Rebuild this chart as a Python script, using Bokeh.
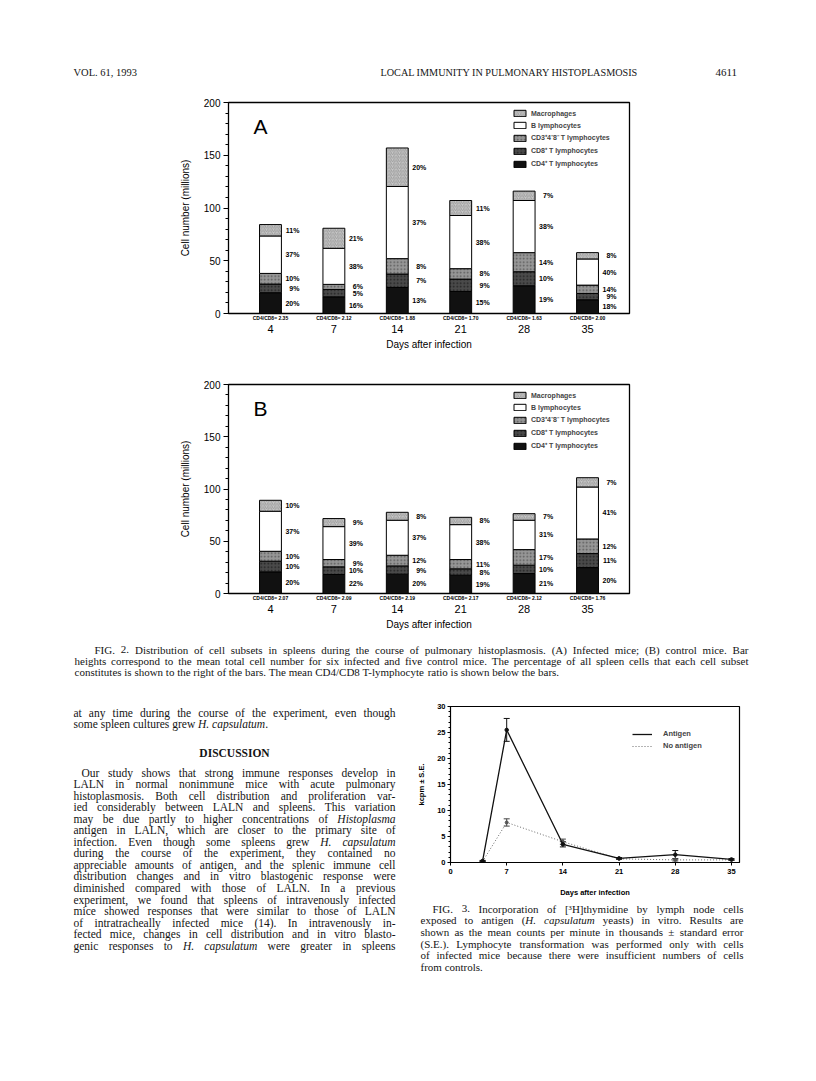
from bokeh.plotting import figure
from bokeh.layouts import column, row
from bokeh.models import (ColumnDataSource, Range1d, LabelSet, Label, Legend, LegendItem,
                          FixedTicker, SingleIntervalTicker, Whisker, TeeHead, LinearAxis)
from bokeh.core.properties import value
from bokeh.embed import file_html
from bokeh.resources import INLINE

SANS = "Liberation Sans"
SERIF = "Liberation Serif"

# ---------------- Fig. 2 data (cell numbers, millions) ----------------
days = ["4", "7", "14", "21", "28", "35"]
subset_names = ["CD4⁺ T lymphocytes", "CD8⁺ T lymphocytes", "CD3⁺4⁻8⁻ T lymphocytes",
                "B lymphocytes", "Macrophages"]

# Panel A: infected mice
a_cd4 = [19.7, 15.8, 24.7, 20.9, 26.3, 13.0]
a_cd8 = [8.2, 7.0, 12.7, 11.7, 13.3, 6.0]
a_cd3 = [10.1, 4.8, 14.6, 9.9, 18.1, 7.9]
a_b = [35.5, 34.2, 68.4, 50.4, 49.4, 24.8]
a_mac = [10.8, 19.0, 36.5, 14.2, 8.9, 6.0]
a_pct_cd4 = [20, 16, 13, 15, 19, 18]
a_pct_cd8 = [9, 5, 7, 9, 10, 9]
a_pct_cd3 = [10, 6, 8, 8, 14, 14]
a_pct_b = [37, 38, 37, 38, 38, 40]
a_pct_mac = [11, 21, 20, 11, 7, 8]
a_ratio = ["2.35", "2.12", "1.88", "1.70", "1.63", "2.00"]

# Panel B: control mice
b_cd4 = [20.7, 18.2, 18.5, 17.5, 19.1, 24.8]
b_cd8 = [10.2, 7.3, 7.9, 6.1, 8.0, 13.4]
b_cd3 = [9.5, 7.0, 10.2, 8.9, 14.9, 14.0]
b_b = [38.3, 31.5, 33.5, 33.4, 28.1, 49.7]
b_mac = [10.5, 7.7, 7.6, 7.0, 6.3, 8.9]
b_pct_cd4 = [20, 22, 20, 19, 21, 20]
b_pct_cd8 = [10, 10, 9, 8, 10, 11]
b_pct_cd3 = [10, 9, 12, 11, 17, 12]
b_pct_b = [37, 39, 37, 38, 31, 41]
b_pct_mac = [10, 9, 8, 8, 7, 7]
b_ratio = ["2.07", "2.09", "2.19", "2.17", "2.12", "1.76"]

# ---------------- Fig. 3 data (kcpm) ----------------
f3_days = [4, 7, 14, 21, 28, 35]
antigen = [0.3, 25.5, 3.5, 0.8, 1.5, 0.6]
antigen_se = [0.1, 2.2, 0.5, 0.15, 0.8, 0.15]
no_antigen = [0.2, 7.7, 4.0, 0.7, 0.5, 0.5]
no_antigen_se = [0.1, 0.7, 0.5, 0.1, 0.2, 0.1]
f3_ticks = [0, 7, 14, 21, 28, 35]

# ---------------- page texts ----------------
header_left = "VOL. 61, 1993"
header_mid = "LOCAL IMMUNITY IN PULMONARY HISTOPLASMOSIS"
header_right = "4611"

cap2_lines = [
    "FIG. 2. Distribution of cell subsets in spleens during the course of pulmonary histoplasmosis. (A) Infected mice; (B) control mice. Bar",
    "heights correspond to the mean total cell number for six infected and five control mice. The percentage of all spleen cells that each cell subset",
    "constitutes is shown to the right of the bars. The mean CD4/CD8 T-lymphocyte ratio is shown below the bars.",
]
left_top_lines = [
    "at any time during the course of the experiment, even though",
    "some spleen cultures grew *H. capsulatum*.",
]
discussion_title = "DISCUSSION"
discussion_lines = [
    "Our study shows that strong immune responses develop in",
    "LALN in normal nonimmune mice with acute pulmonary",
    "histoplasmosis. Both cell distribution and proliferation var-",
    "ied considerably between LALN and spleens. This variation",
    "may be due partly to higher concentrations of *Histoplasma*",
    "antigen in LALN, which are closer to the primary site of",
    "infection. Even though some spleens grew *H. capsulatum*",
    "during the course of the experiment, they contained no",
    "appreciable amounts of antigen, and the splenic immune cell",
    "distribution changes and in vitro blastogenic response were",
    "diminished compared with those of LALN. In a previous",
    "experiment, we found that spleens of intravenously infected",
    "mice showed responses that were similar to those of LALN",
    "of intratracheally infected mice (14). In intravenously in-",
    "fected mice, changes in cell distribution and in vitro blasto-",
    "genic responses to *H. capsulatum* were greater in spleens",
]
cap3_lines = [
    "FIG. 3. Incorporation of [³H]thymidine by lymph node cells",
    "exposed to antigen (*H. capsulatum* yeasts) in vitro. Results are",
    "shown as the mean counts per minute in thousands ± standard error",
    "(S.E.). Lymphocyte transformation was performed only with cells",
    "of infected mice because there were insufficient numbers of cells",
    "from controls.",
]

# ---------------- text metrics (Times-compatible widths, 1/1000 em) ----------------
_W = {' ': 250, '!': 333, '"': 408, '%': 833, '&': 778, "'": 333, '(': 333, ')': 333,
      '*': 500, '+': 564, ',': 250, '-': 333, '.': 250, '/': 278, ':': 278, ';': 278,
      '=': 564, '?': 444, '[': 333, ']': 333, '±': 564, '³': 300,
      'A': 722, 'B': 667, 'C': 667, 'D': 722, 'E': 611, 'F': 556, 'G': 722, 'H': 722,
      'I': 333, 'J': 389, 'K': 722, 'L': 611, 'M': 889, 'N': 722, 'O': 722, 'P': 556,
      'Q': 722, 'R': 667, 'S': 556, 'T': 611, 'U': 722, 'V': 722, 'W': 944, 'X': 722,
      'Y': 722, 'Z': 611,
      'a': 444, 'b': 500, 'c': 444, 'd': 500, 'e': 444, 'f': 333, 'g': 500, 'h': 500,
      'i': 278, 'j': 278, 'k': 500, 'l': 278, 'm': 778, 'n': 500, 'o': 500, 'p': 500,
      'q': 500, 'r': 333, 's': 389, 't': 278, 'u': 500, 'v': 500, 'w': 722, 'x': 500,
      'y': 500, 'z': 444}
_WI = {'a': 500, 'f': 278, 'k': 444, 'm': 722, 'r': 389, 'v': 444, 'w': 667, 'x': 444,
       'y': 444, 'z': 389}


def tw(s, italic=False):
    tot = 0
    for c in s:
        if italic and c in _WI:
            tot += _WI[c]
        else:
            tot += _W.get(c, 500)
    return tot / 1000.0


def parse(line):
    words = []
    ital = False
    for raw in line.split(" "):
        segs, cur = [], ""
        for ch in raw:
            if ch == "*":
                if cur:
                    segs.append((cur, ital))
                    cur = ""
                ital = not ital
            else:
                cur += ch
        if cur:
            segs.append((cur, ital))
        words.append(segs)
    return words


def emit_lines(f, lines, x0, x1, y0, dy, size, indent_first=0, justify_last=False, color="#141414"):
    R = dict(x=[], y=[], t=[])
    I = dict(x=[], y=[], t=[])
    for li, line in enumerate(lines):
        words = parse(line)
        xs0 = x0 + (indent_first if li == 0 else 0)
        wws = [sum(tw(t, it) for t, it in w) * size for w in words]
        last = (li == len(lines) - 1) and not justify_last
        if len(words) > 1 and not last:
            gap = (x1 - xs0 - sum(wws)) / (len(words) - 1)
        else:
            gap = 0.25 * size
        x = xs0
        y = y0 + li * dy
        for w, ww in zip(words, wws):
            cx = x
            for t, it in w:
                d = I if it else R
                d["x"].append(cx)
                d["y"].append(y)
                d["t"].append(t)
                cx += tw(t, it) * size
            x += ww + gap
    for d, style in ((R, "normal"), (I, "italic")):
        if d["t"]:
            f.text(x=d["x"], y=d["y"], text=d["t"], text_font=value(SERIF),
                   text_font_size=value(f"{size}px"), text_font_style=value(style),
                   text_baseline="middle", text_align="left", text_color=color)


def text_fig(w, h):
    f = figure(width=w, height=h, x_range=Range1d(0, w), y_range=Range1d(h, 0),
               output_backend="svg", toolbar_location=None, title=None, min_border=0,
               x_axis_type=None, y_axis_type=None, frame_align=False)
    f.outline_line_color = None
    f.background_fill_color = "white"
    f.border_fill_color = "white"
    return f


# ---------------- Fig. 2 panels ----------------
XS, XE = -0.662, 5.662
FRAME_W = 401
LEFT_B = 228
FILLS = ["#111111", "#4a4a4a", "#969696", "#ffffff", "#c8c8c8"]
HATCH = [" ", "dot", "dot", " ", "right_diagonal_line"]
HATCH_COL = ["#111111", "#222222", "#5a5a5a", "#ffffff", "#8a8a8a"]


def spread(mids, gap):
    ys = list(mids)
    for _ in range(500):
        moved = False
        for i in range(len(ys) - 1):
            d = ys[i + 1] - ys[i]
            if d < gap - 1e-9:
                s = (gap - d) / 2.0
                ys[i] -= s
                ys[i + 1] += s
                moved = True
        if not moved:
            break
    return ys


def make_panel(letter, stacks, pcts, ratios, height, top, frame_h):
    ppu = frame_h / 200.0
    ppx = FRAME_W / (XE - XS)
    p = figure(width=800, height=height, x_range=Range1d(XS, XE), y_range=Range1d(0, 200),
               output_backend="svg", toolbar_location=None, title=None, frame_align=False,
               min_border_left=LEFT_B, min_border_right=800 - LEFT_B - FRAME_W,
               min_border_top=top, min_border_bottom=height - top - frame_h)
    p.outline_line_color = "black"
    p.outline_line_width = 1.3
    p.xgrid.visible = False
    p.ygrid.visible = False
    p.background_fill_color = "white"
    p.border_fill_color = "white"

    keys = ["cd4", "cd8", "cd3", "b", "mac"]
    data = dict(x=list(range(len(days))))
    for k, s in zip(keys, stacks):
        data[k] = s
    src = ColumnDataSource(data)
    rs = p.vbar_stack(keys, x="x", width=0.345, source=src, fill_color=FILLS,
                      line_color="black", line_width=1, hatch_pattern=HATCH,
                      hatch_color=HATCH_COL, hatch_scale=3.5, hatch_weight=0.7)

    lx, ly, lt = [], [], []
    gap = 7.5 / ppu
    for i in range(len(days)):
        bottom = 0.0
        mids = []
        for s in stacks:
            mids.append(bottom + s[i] / 2.0)
            bottom += s[i]
        ys = spread(mids, gap)
        for j, pc in enumerate(pcts):
            lx.append(i)
            ly.append(ys[j])
            lt.append(f"{pc[i]}%")
    p.add_layout(LabelSet(x="x", y="y", text="t", source=ColumnDataSource(dict(x=lx, y=ly, t=lt)),
                          x_offset=29, text_align="right", text_baseline="middle",
                          text_font=value(SANS), text_font_size=value("7px"),
                          text_font_style=value("bold"), text_color="black"))

    p.add_layout(Label(x=XS + 25 / ppx, y=200 - 12 / ppu, text=letter, text_font=SANS,
                       text_font_size="21px", text_baseline="top", text_align="left",
                       text_color="black"))

    items = [LegendItem(label=subset_names[j], renderers=[rs[j]]) for j in reversed(range(5))]
    leg = Legend(items=items, location=(284, frame_h - 7 - 59), glyph_width=15, glyph_height=8,
                 label_height=8, label_standoff=4, spacing=4, padding=0, margin=0,
                 label_text_font=SANS, label_text_font_size="7px", label_text_font_style="bold",
                 border_line_color=None, background_fill_alpha=0)
    p.add_layout(leg)

    # axis nearest the frame: CD4/CD8 ratios
    ax_r = p.xaxis[0]
    ax_r.ticker = FixedTicker(ticks=list(range(len(days))))
    ax_r.major_label_overrides = {i: f"CD4/CD8= {r}" for i, r in enumerate(ratios)}
    ax_r.major_tick_line_color = None
    ax_r.minor_tick_line_color = None
    ax_r.major_tick_out = 0
    ax_r.major_tick_in = 0
    ax_r.axis_line_color = None
    ax_r.major_label_standoff = 1
    ax_r.major_label_text_font = SANS
    ax_r.major_label_text_font_size = "5px"
    ax_r.major_label_text_font_style = "bold"
    ax_r.major_label_text_color = "black"

    # second axis: day numbers and title
    ax_d = LinearAxis(ticker=FixedTicker(ticks=list(range(len(days)))),
                      major_label_overrides={i: d for i, d in enumerate(days)})
    ax_d.major_tick_line_color = None
    ax_d.minor_tick_line_color = None
    ax_d.major_tick_out = 0
    ax_d.major_tick_in = 0
    ax_d.axis_line_color = None
    ax_d.major_label_standoff = 1
    ax_d.major_label_text_font = SANS
    ax_d.major_label_text_font_size = "11px"
    ax_d.major_label_text_color = "black"
    ax_d.axis_label = "Days after infection"
    ax_d.axis_label_text_font = SANS
    ax_d.axis_label_text_font_size = "10px"
    ax_d.axis_label_text_font_style = "normal"
    ax_d.axis_label_text_color = "black"
    ax_d.axis_label_standoff = 3
    p.add_layout(ax_d, "below")

    p.yaxis.ticker = SingleIntervalTicker(interval=50, num_minor_ticks=5)
    p.yaxis.major_tick_out = 5
    p.yaxis.major_tick_in = 0
    p.yaxis.minor_tick_out = 3
    p.yaxis.minor_tick_in = 0
    p.yaxis.axis_line_color = "black"
    p.yaxis.major_tick_line_color = "black"
    p.yaxis.minor_tick_line_color = "black"
    p.yaxis.major_label_standoff = 3
    p.yaxis.major_label_text_font = SANS
    p.yaxis.major_label_text_font_size = "10px"
    p.yaxis.major_label_text_color = "black"
    p.yaxis.axis_label = "Cell number (millions)"
    p.yaxis.axis_label_text_font = SANS
    p.yaxis.axis_label_text_font_size = "10px"
    p.yaxis.axis_label_text_font_style = "normal"
    p.yaxis.axis_label_text_color = "black"
    p.yaxis.axis_label_standoff = 10
    return p


# header (page y 0..85)
header = text_fig(800, 85)
header.text(x=[73], y=[72], text=[header_left], text_font=value(SERIF), text_font_size=value("10.5px"),
            text_baseline="middle", text_align="left", text_color="#141414")
header.text(x=[380], y=[72], text=[header_mid], text_font=value(SERIF), text_font_size=value("10.2px"),
            text_baseline="middle", text_align="left", text_color="#141414")
header.text(x=[715], y=[72], text=[header_right], text_font=value(SERIF), text_font_size=value("11px"),
            text_baseline="middle", text_align="left", text_color="#141414")

figA = make_panel("A", [a_cd4, a_cd8, a_cd3, a_b, a_mac],
                  [a_pct_cd4, a_pct_cd8, a_pct_cd3, a_pct_b, a_pct_mac], a_ratio,
                  height=270, top=17, frame_h=211)
figB = make_panel("B", [b_cd4, b_cd8, b_cd3, b_b, b_mac],
                  [b_pct_cd4, b_pct_cd8, b_pct_cd3, b_pct_b, b_pct_mac], b_ratio,
                  height=277, top=29, frame_h=209)

# Fig. 2 legend text (page y 632..690)
cap2 = text_fig(800, 58)
emit_lines(cap2, cap2_lines, 74, 748, 17, 11, 11, indent_first=20)

# left column text (page x 0..410, y 690..1073)
left = text_fig(410, 383)
emit_lines(left, left_top_lines, 73, 395, 22, 11.5, 11.5)
left.text(x=[234], y=[62], text=[discussion_title], text_font=value(SERIF),
          text_font_size=value("11.5px"), text_font_style=value("bold"),
          text_baseline="middle", text_align="center", text_color="#141414")
emit_lines(left, discussion_lines, 73, 395, 82, 11.55, 11.5, indent_first=8, justify_last=True)

# ---------------- Fig. 3 ----------------
p3 = figure(width=398, height=210, x_range=Range1d(0, 36), y_range=Range1d(0, 30),
            output_backend="svg", toolbar_location=None, title=None, frame_align=False,
            min_border_left=40, min_border_right=69, min_border_top=16, min_border_bottom=38)
p3.outline_line_color = "black"
p3.outline_line_width = 1.2
p3.xgrid.visible = False
p3.ygrid.visible = False
p3.background_fill_color = "white"
p3.border_fill_color = "white"

s_ag = ColumnDataSource(dict(x=f3_days, y=antigen,
                             up=[v + e for v, e in zip(antigen, antigen_se)],
                             lo=[v - e for v, e in zip(antigen, antigen_se)]))
s_no = ColumnDataSource(dict(x=f3_days, y=no_antigen,
                             up=[v + e for v, e in zip(no_antigen, no_antigen_se)],
                             lo=[v - e for v, e in zip(no_antigen, no_antigen_se)]))
r_no = p3.line("x", "y", source=s_no, line_color="#6a6a6a", line_width=1, line_dash="1 2")
p3.scatter("x", "y", source=s_no, size=3, color="#555555")
p3.add_layout(Whisker(source=s_no, base="x", upper="up", lower="lo", line_color="#444444",
                      line_width=1, upper_head=TeeHead(size=6, line_color="#444444"),
                      lower_head=TeeHead(size=6, line_color="#444444")))
r_ag = p3.line("x", "y", source=s_ag, line_color="#111111", line_width=1.3)
p3.scatter("x", "y", source=s_ag, size=3.5, color="#111111")
p3.add_layout(Whisker(source=s_ag, base="x", upper="up", lower="lo", line_color="#111111",
                      line_width=1, upper_head=TeeHead(size=6, line_color="#111111"),
                      lower_head=TeeHead(size=6, line_color="#111111")))

leg3 = Legend(items=[LegendItem(label="Antigen", renderers=[r_ag]),
                     LegendItem(label="No antigen", renderers=[r_no])],
              location=(182, 112), glyph_width=20, glyph_height=6, label_height=6,
              label_standoff=11, spacing=3, padding=0, margin=0,
              label_text_font=SANS, label_text_font_size="7.5px", label_text_font_style="bold",
              border_line_color=None, background_fill_alpha=0)
p3.add_layout(leg3)

p3.xaxis.ticker = FixedTicker(ticks=f3_ticks)
p3.xaxis.minor_tick_line_color = None
p3.xaxis.major_tick_out = 3
p3.xaxis.major_tick_in = 0
p3.xaxis.major_label_standoff = 3
p3.yaxis.ticker = SingleIntervalTicker(interval=5, num_minor_ticks=5)
p3.yaxis.major_tick_out = 3
p3.yaxis.major_tick_in = 0
p3.yaxis.minor_tick_out = 2
p3.yaxis.minor_tick_in = 0
p3.yaxis.major_label_standoff = 2
for ax in (p3.xaxis, p3.yaxis):
    ax.axis_line_color = "black"
    ax.major_tick_line_color = "black"
    ax.major_label_text_font = SANS
    ax.major_label_text_font_size = "7.5px"
    ax.major_label_text_font_style = "bold"
    ax.major_label_text_color = "black"
    ax.axis_label_text_font = SANS
    ax.axis_label_text_font_size = "7.5px"
    ax.axis_label_text_font_style = "bold"
    ax.axis_label_text_color = "black"
p3.yaxis.minor_tick_line_color = "black"
p3.xaxis.axis_label = "Days after infection"
p3.xaxis.axis_label_standoff = 11
p3.yaxis.axis_label = "kcpm ± S.E."
p3.yaxis.axis_label_standoff = 8

# Fig. 3 legend text (page x 410..808, y 900..980)
cap3 = text_fig(398, 80)
emit_lines(cap3, cap3_lines, 10, 333, 8.3, 11.67, 11, indent_first=12)

layout = column(header, figA, figB, cap2, row(left, column(p3, cap3)))
open("out.html", "w").write(file_html(layout, INLINE))
